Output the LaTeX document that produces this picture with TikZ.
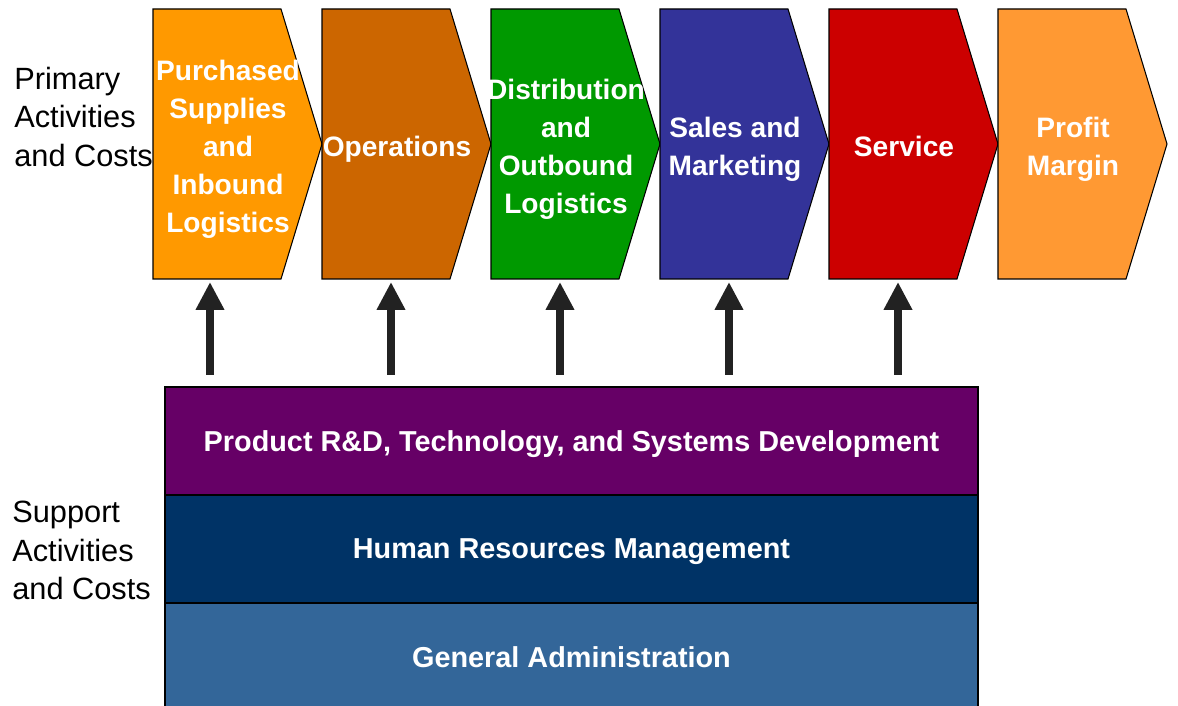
\documentclass[tikz,border=0pt]{standalone}
\usepackage{fontspec}
\setmainfont{Liberation Sans}
\usepackage{tikz}
\usetikzlibrary{arrows.meta}

\definecolor{inboundorange}{HTML}{FF9900}
\definecolor{opsbrown}{HTML}{CC6600}
\definecolor{distgreen}{HTML}{009900}
\definecolor{salesblue}{HTML}{333399}
\definecolor{servicered}{HTML}{CC0000}
\definecolor{marginorange}{HTML}{FF9933}
\definecolor{rdpurple}{HTML}{660066}
\definecolor{hrnavy}{HTML}{003366}
\definecolor{adminblue}{HTML}{336699}
\definecolor{arrowgray}{HTML}{222222}

\begin{document}
\begin{tikzpicture}[x=1cm,y=1cm,
    chev/.style={draw=black,line width=0.6pt},
    chevtext/.style={text=white,align=center,inner sep=0pt,text depth=0pt,font=\bfseries\fontsize{16}{21.6}\selectfont},
    sidetext/.style={text=black,align=left,anchor=west,inner sep=0pt,font=\fontsize{17.5}{22}\selectfont},
    band/.style={draw=black,line width=0.6pt,minimum width=16.26cm,minimum height=2.16cm,inner sep=0pt,text depth=0pt,text=white,font=\bfseries\fontsize{16.4}{20}\selectfont},
    supparrow/.style={draw=arrowgray,line width=4.5pt,-{Triangle[length=5.6mm,width=5.4mm]}}]
        \clip(0,0) rectangle (23.56,14.12);
        % primary activities
        \draw [chev,fill=inboundorange] (3.06,8.54) -- (3.06,13.94) -- (5.62,13.94) -- (6.44,11.24) -- (5.62,8.54) -- cycle;
        \draw [chev,fill=opsbrown] (6.44,8.54) -- (6.44,13.94) -- (9.0,13.94) -- (9.82,11.24) -- (9.0,8.54) -- cycle;
        \draw [chev,fill=distgreen] (9.82,8.54) -- (9.82,13.94) -- (12.38,13.94) -- (13.2,11.24) -- (12.38,8.54) -- cycle;
        \draw [chev,fill=salesblue] (13.2,8.54) -- (13.2,13.94) -- (15.76,13.94) -- (16.58,11.24) -- (15.76,8.54) -- cycle;
        \draw [chev,fill=servicered] (16.58,8.54) -- (16.58,13.94) -- (19.14,13.94) -- (19.96,11.24) -- (19.14,8.54) -- cycle;
        \draw [chev,fill=marginorange] (19.96,8.54) -- (19.96,13.94) -- (22.52,13.94) -- (23.34,11.24) -- (22.52,8.54) -- cycle;
        \draw (4.56,11.20) node[chevtext] (pur) {Purchased\\Supplies\\and\\Inbound\\Logistics};
        \draw (7.94,11.20) node[chevtext] (ops) {Operations};
        \draw (11.32,11.20) node[chevtext] (dist) {Distribution\\and\\Outbound\\Logistics};
        \draw (14.70,11.20) node[chevtext] (sales) {Sales and\\Marketing};
        \draw (18.08,11.20) node[chevtext] (serv) {Service};
        \draw (21.46,11.20) node[chevtext] (marg) {Profit\\Margin};
        % support activities
        \draw (11.43,5.30) node[band,fill=rdpurple] (rd) {Product R\&D, Technology, and Systems Development};
        \draw (11.43,3.14) node[band,fill=hrnavy] (hr) {Human Resources Management};
        \draw (11.43,0.98) node[band,fill=adminblue] (ga) {General Administration};
        % arrows from support to primary
        \coordinate (purin) at (4.2,8.48);
        \coordinate (opsin) at (7.82,8.48);
        \coordinate (distin) at (11.2,8.48);
        \coordinate (salesin) at (14.58,8.48);
        \coordinate (servin) at (17.96,8.48);
        \coordinate (purout) at (4.2,6.62);
        \coordinate (opsout) at (7.82,6.62);
        \coordinate (distout) at (11.2,6.62);
        \coordinate (salesout) at (14.58,6.62);
        \coordinate (servout) at (17.96,6.62);
        \draw [supparrow] (purout) -- (purin);
        \draw [supparrow] (opsout) -- (opsin);
        \draw [supparrow] (distout) -- (distin);
        \draw [supparrow] (salesout) -- (salesin);
        \draw [supparrow] (servout) -- (servin);
        % side labels
        \draw (0.28,11.78) node[sidetext] (prim) {Primary\\Activities\\and Costs};
        \draw (0.24,3.11) node[sidetext] (supp) {Support\\Activities\\and Costs};
    \end{tikzpicture}
\end{document}
